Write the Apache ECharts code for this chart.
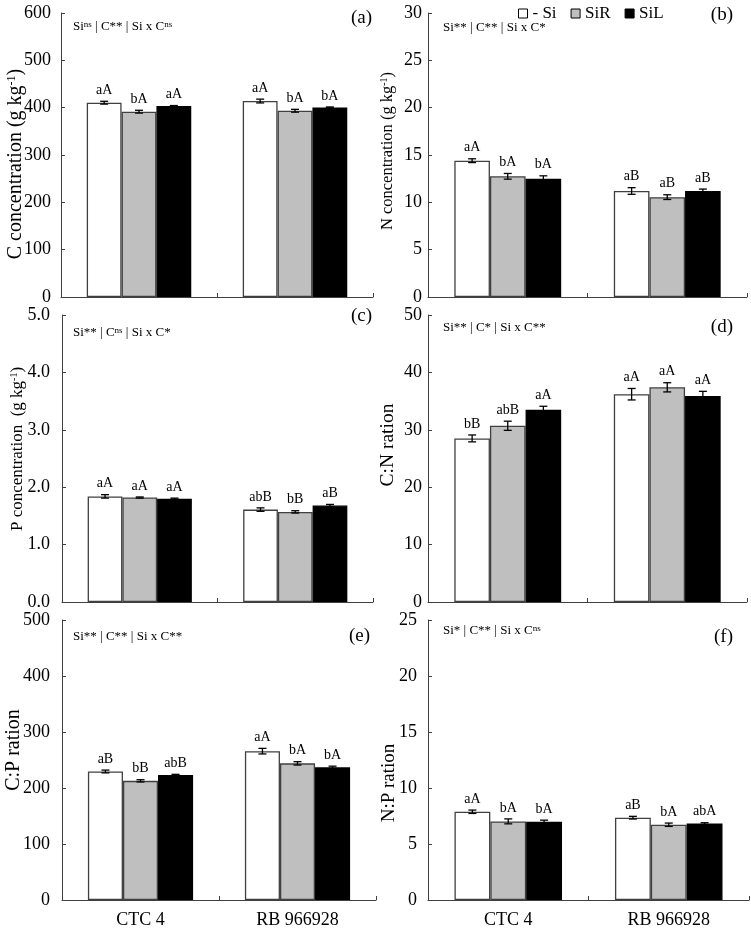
<!DOCTYPE html>
<html><head><meta charset="utf-8">
<script src="https://cdn.jsdelivr.net/npm/echarts@6/dist/echarts.min.js"></script>
<style>html,body{margin:0;padding:0;background:#fff}#chart{width:751px;height:929px}</style>
</head><body><div id="chart"></div>
<script>
const categories = ['CTC 4', 'RB 966928'];
const treatments = ['- Si', 'SiR', 'SiL'];

// (a) C concentration (g kg-1): rows = - Si, SiR, SiL
const cValues = [[410.5, 414.0], [391.5, 393.5], [403.5, 400.5]];
const cErrors = [[3, 4], [3, 3], [1, 1]];
const cLetters = [['aA', 'aA'], ['bA', 'bA'], ['aA', 'bA']];

// (b) N concentration (g kg-1)
const nValues = [[14.4, 11.2], [12.75, 10.55], [12.5, 11.2]];
const nErrors = [[0.2, 0.35], [0.3, 0.25], [0.3, 0.2]];
const nLetters = [['aA', 'aB'], ['bA', 'aB'], ['bA', 'aB']];

// (c) P concentration (g kg-1)
const pValues = [[1.84, 1.61], [1.82, 1.57], [1.80, 1.68]];
const pErrors = [[0.03, 0.03], [0.01, 0.02], [0.01, 0.02]];
const pLetters = [['aA', 'abB'], ['aA', 'bB'], ['aA', 'aB']];

// (d) C:N ration
const cnValues = [[28.5, 36.2], [30.7, 37.4], [33.5, 35.9]];
const cnErrors = [[0.6, 1.0], [0.8, 0.8], [0.6, 0.8]];
const cnLetters = [['bB', 'aA'], ['abB', 'aA'], ['aA', 'aA']];

// (e) C:P ration
const cpValues = [[229.5, 265.8], [212.8, 244.0], [223.4, 237.0]];
const cpErrors = [[2.5, 5], [2, 3], [1, 2]];
const cpLetters = [['aB', 'aA'], ['bB', 'bA'], ['abB', 'bA']];

// (f) N:P ration
const npValues = [[7.88, 7.35], [7.02, 6.72], [6.98, 6.82]];
const npErrors = [[0.15, 0.12], [0.22, 0.15], [0.15, 0.08]];
const npLetters = [['aA', 'aB'], ['bA', 'bA'], ['bA', 'abA']];

const FONT = 'Liberation Serif';
const fills = ['#ffffff', '#bfbfbf', '#000000'];
const borders = ['#404040', '#404040', '#000000'];
const AXIS = '#404040';

const panels = [
  {values: cValues, errors: cErrors, letters: cLetters, max: 600, interval: 100, dec: 0,
   grid: {left: 61, top: 13, width: 312, height: 284}, showX: false, margin: 10,
   title: {x: 16, y: 164, size: 20, pre: 'C concentration (g kg', sup: '-1', post: ')'},
   note: {x: 73, y: 27, text: 'Si{s|ns} | C** | Si x C{s|ns}'},
   tag: {x: 372, y: 18, text: '(a)'}},
  {values: nValues, errors: nErrors, letters: nLetters, max: 30, interval: 5, dec: 0,
   grid: {left: 428, top: 13, width: 319, height: 284}, showX: false, margin: 6,
   title: {x: 387.5, y: 151, size: 16.5, pre: 'N concentration (g kg', sup: '-1', post: ')'},
   note: {x: 443, y: 28, text: 'Si** | C** | Si x C*'},
   tag: {x: 733, y: 15, text: '(b)'}},
  {values: pValues, errors: pErrors, letters: pLetters, max: 5, interval: 1, dec: 1,
   grid: {left: 62, top: 315, width: 311, height: 287}, showX: false, margin: 12,
   title: {x: 17.5, y: 449, size: 17, pre: 'P concentration  (g kg', sup: '-1', post: ')'},
   note: {x: 73, y: 333, text: 'Si** | C{s|ns} | Si x C*'},
   tag: {x: 372, y: 316, text: '(c)'}},
  {values: cnValues, errors: cnErrors, letters: cnLetters, max: 50, interval: 10, dec: 0,
   grid: {left: 428, top: 315, width: 319, height: 287}, showX: false, margin: 6,
   title: {x: 387.5, y: 445, size: 19.5, pre: 'C:N ration', sup: '', post: ''},
   note: {x: 443, y: 328, text: 'Si** | C* | Si x C**'},
   tag: {x: 733, y: 327, text: '(d)'}},
  {values: cpValues, errors: cpErrors, letters: cpLetters, max: 500, interval: 100, dec: 0,
   grid: {left: 62, top: 620, width: 314, height: 283}, showX: true, margin: 12,
   title: {x: 14, y: 750, size: 20, pre: 'C:P ration', sup: '', post: ''},
   note: {x: 73, y: 637, text: 'Si** | C** | Si x C**'},
   tag: {x: 370, y: 636, text: '(e)'}},
  {values: npValues, errors: npErrors, letters: npLetters, max: 25, interval: 5, dec: 0,
   grid: {left: 428, top: 620, width: 321, height: 283}, showX: true, margin: 11,
   title: {x: 389, y: 783, size: 19, pre: 'N:P ration', sup: '', post: ''},
   note: {x: 443, y: 631, text: 'Si* | C** | Si x C{s|ns}'},
   tag: {x: 733, y: 637, text: '(f)'}}
];

const grids = panels.map(p => p.grid);
const xAxes = panels.map((p, i) => ({
  type: 'category', gridIndex: i, data: categories,
  axisLine: {lineStyle: {color: AXIS, width: 1}},
  axisTick: {show: true, inside: true, length: 4, lineStyle: {color: AXIS}},
  axisLabel: {show: p.showX, fontFamily: FONT, fontSize: 18, color: '#000', margin: 11}
}));
const yAxes = panels.map((p, i) => ({
  type: 'value', gridIndex: i, min: 0, max: p.max, interval: p.interval,
  splitLine: {show: false},
  axisLine: {show: true, lineStyle: {color: AXIS, width: 1}},
  axisTick: {show: true, inside: true, length: 4, lineStyle: {color: AXIS}},
  axisLabel: {fontFamily: FONT, fontSize: 18, color: '#000', margin: p.margin,
    formatter: v => v.toFixed(p.dec)}
}));

const series = [];
panels.forEach((p, i) => {
  for (let k = 0; k < 3; k++) {
    series.push({
      type: 'bar', name: treatments[k], xAxisIndex: i, yAxisIndex: i,
      data: p.values[k], barGap: '0%', barCategoryGap: '33%',
      itemStyle: {color: fills[k], borderColor: borders[k], borderWidth: 1.3},
      emphasis: {disabled: true}
    });
  }
  for (let k = 0; k < 3; k++) {
    series.push({
      type: 'custom', xAxisIndex: i, yAxisIndex: i, z: 5, clip: false,
      data: categories.map((c, j) => [j, p.values[k][j], p.errors[k][j]]),
      encode: {x: 0, y: 1},
      renderItem: (params, api) => {
        const j = api.value(0), v = api.value(1), e = api.value(2);
        const top = api.coord([j, v + e]);
        const bot = api.coord([j, v - e]);
        const catW = api.size([1, 0])[0];
        const bw = catW * (1 - 0.33) / 3;
        const x = top[0] + (k - 1) * bw;
        const cap = 4;
        const ls = {stroke: '#000', lineWidth: 1.3};
        return {type: 'group', children: [
          {type: 'line', shape: {x1: x, y1: top[1], x2: x, y2: bot[1]}, style: ls},
          {type: 'line', shape: {x1: x - cap, y1: top[1], x2: x + cap, y2: top[1]}, style: ls},
          {type: 'line', shape: {x1: x - cap, y1: bot[1], x2: x + cap, y2: bot[1]}, style: ls},
          {type: 'text', x: x, y: top[1] - 4, style: {
            text: p.letters[k][params.dataIndex], fontFamily: FONT, fontSize: 14, fill: '#000',
            align: 'center', textAlign: 'center', verticalAlign: 'bottom', textVerticalAlign: 'bottom'}}
        ]};
      }
    });
  }
});

const graphics = [];
panels.forEach(p => {
  const t = p.title;
  const txt = t.sup ? (t.pre + '{s|' + t.sup + '}' + t.post) : t.pre;
  graphics.push({
    type: 'text', x: t.x, y: t.y, rotation: Math.PI / 2,
    style: {text: txt, fontFamily: FONT, fontSize: t.size, fill: '#000',
      align: 'center', textAlign: 'center', verticalAlign: 'middle', textVerticalAlign: 'middle',
      rich: {s: {fontFamily: FONT, fontSize: Math.round(t.size * 0.6), fill: '#000', verticalAlign: 'top'}}}
  });
  graphics.push({
    type: 'text', x: p.note.x, y: p.note.y,
    style: {text: p.note.text, fontFamily: FONT, fontSize: 13, fill: '#000',
      align: 'left', textAlign: 'left', verticalAlign: 'middle', textVerticalAlign: 'middle',
      rich: {s: {fontFamily: FONT, fontSize: 9, fill: '#000', verticalAlign: 'top'}}}
  });
  graphics.push({
    type: 'text', x: p.tag.x, y: p.tag.y,
    style: {text: p.tag.text, fontFamily: FONT, fontSize: 19, fill: '#000',
      align: 'right', textAlign: 'right', verticalAlign: 'middle', textVerticalAlign: 'middle'}
  });
});

const chart = echarts.init(document.getElementById('chart'), null, {renderer: 'canvas'});
chart.setOption({
  animation: false,
  backgroundColor: '#fff',
  legend: {
    top: 0, left: 513, itemWidth: 9, itemHeight: 9, itemGap: 14, icon: 'rect',
    textStyle: {fontFamily: FONT, fontSize: 17, color: '#000'},
    selectedMode: false,
    data: treatments.map((n, k) => ({name: n, itemStyle: {color: fills[k], borderColor: '#000', borderWidth: 1}}))
  },
  grid: grids,
  xAxis: xAxes,
  yAxis: yAxes,
  series: series,
  graphic: graphics
});
</script></body></html>
